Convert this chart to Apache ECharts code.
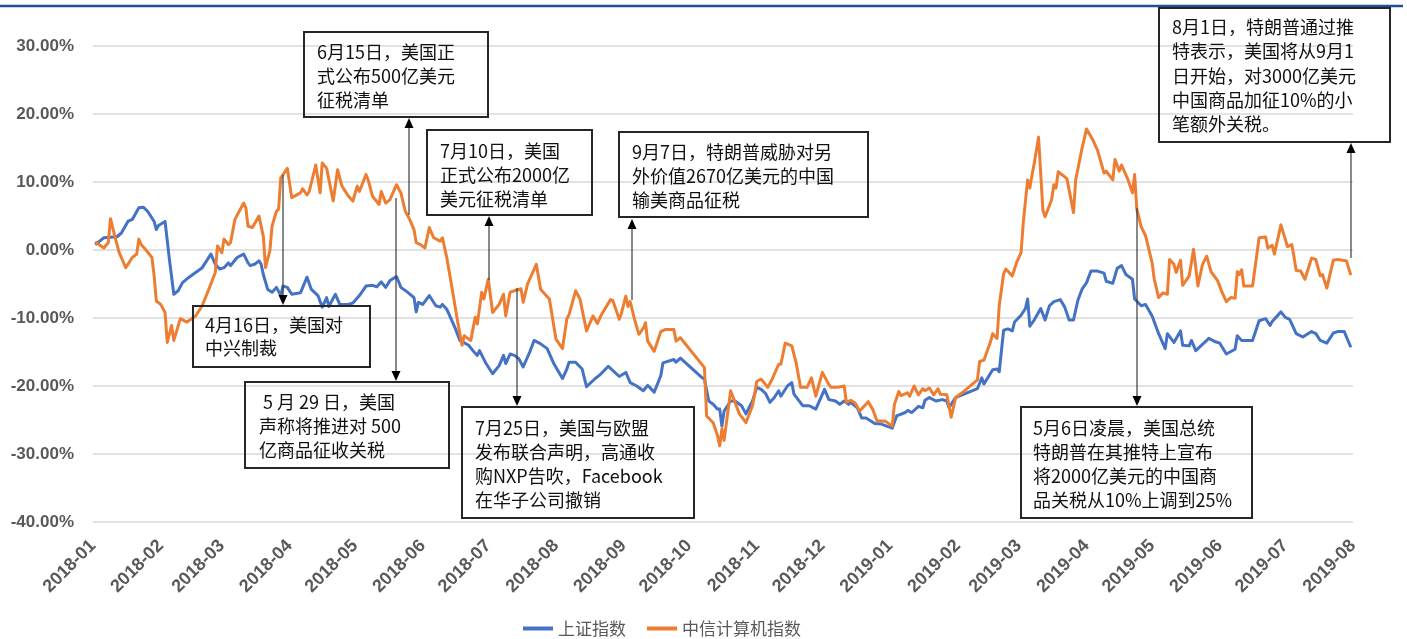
<!DOCTYPE html>
<html>
<head>
<meta charset="utf-8">
<script src="https://cdn.jsdelivr.net/npm/echarts@6/dist/echarts.min.js"></script>
<style>
html,body{margin:0;padding:0;background:#fff;}
#c{width:1407px;height:639px;}
</style>
</head>
<body>
<div id="c"></div>
<script>
// ---- data (percent change since 2018-01-02) ----
const seriesNames = ['上证指数', '中信计算机指数'];
const yTicks = [-40, -30, -20, -10, 0, 10, 20, 30];

const shIndex = [
['2018-01-02',0.8],['2018-01-06',1.8],['2018-01-12',1.95],['2018-01-14',2.5],['2018-01-17',4.2],['2018-01-19',4.5],['2018-01-22',6.2],['2018-01-24',6.3],['2018-01-26',5.7],['2018-01-29',4.2],['2018-01-30',3.0],['2018-01-31',3.6],
['2018-02-03',4.2],['2018-02-05',-1.4],['2018-02-07',-6.5],['2018-02-09',-6.0],['2018-02-11',-4.8],['2018-02-14',-4.0],['2018-02-20',-2.6],['2018-02-24',-0.6],['2018-02-26',-2.1],['2018-02-28',-2.8],
['2018-03-02',-2.6],['2018-03-04',-1.9],['2018-03-05',-2.3],['2018-03-08',-1.1],['2018-03-11',-0.6],['2018-03-13',-1.9],['2018-03-14',-2.3],['2018-03-16',-2.1],['2018-03-18',-1.6],['2018-03-19',-2.1],['2018-03-20',-3.6],['2018-03-22',-5.8],['2018-03-24',-6.2],['2018-03-26',-5.5],['2018-03-28',-6.7],['2018-03-29',-5.3],['2018-03-31',-5.5],
['2018-04-02',-6.5],['2018-04-06',-6.3],['2018-04-09',-4.0],['2018-04-11',-5.8],['2018-04-14',-6.7],['2018-04-16',-8.4],['2018-04-18',-7.0],['2018-04-19',-8.3],['2018-04-22',-6.5],['2018-04-24',-8.0],['2018-04-28',-8.0],['2018-04-30',-7.8],
['2018-05-03',-6.7],['2018-05-06',-5.3],['2018-05-09',-5.2],['2018-05-11',-5.4],['2018-05-13',-4.7],['2018-05-15',-5.5],['2018-05-17',-4.5],['2018-05-20',-3.9],['2018-05-22',-5.5],['2018-05-25',-6.2],['2018-05-28',-7.0],['2018-05-29',-9.1],['2018-05-30',-7.7],
['2018-06-01',-8.0],['2018-06-04',-6.7],['2018-06-07',-8.2],['2018-06-09',-8.4],['2018-06-10',-8.0],['2018-06-12',-8.7],['2018-06-16',-11.6],['2018-06-18',-13.3],['2018-06-22',-14.0],['2018-06-24',-14.8],['2018-06-26',-15.5],['2018-06-27',-14.8],['2018-06-30',-16.7],
['2018-07-03',-18.2],['2018-07-06',-17.0],['2018-07-08',-15.5],['2018-07-09',-16.7],['2018-07-11',-15.3],['2018-07-13',-15.5],['2018-07-15',-16.0],['2018-07-17',-17.2],['2018-07-20',-15.0],['2018-07-22',-13.3],['2018-07-25',-13.8],['2018-07-28',-14.5],['2018-07-31',-16.7],
['2018-08-04',-18.9],['2018-08-06',-17.5],['2018-08-07',-16.5],['2018-08-10',-16.5],['2018-08-13',-17.5],['2018-08-15',-20.1],['2018-08-19',-18.9],['2018-08-21',-18.4],['2018-08-25',-17.1],['2018-08-30',-18.6],
['2018-09-02',-18.0],['2018-09-04',-19.5],['2018-09-07',-20.0],['2018-09-10',-20.7],['2018-09-12',-19.9],['2018-09-15',-20.9],['2018-09-18',-18.5],['2018-09-19',-16.6],['2018-09-24',-16.1],['2018-09-25',-16.5],['2018-09-27',-15.9],
['2018-10-07',-18.8],['2018-10-08',-19.0],['2018-10-10',-22.2],['2018-10-12',-22.7],['2018-10-14',-23.4],['2018-10-15',-23.4],['2018-10-16',-25.9],['2018-10-17',-23.7],['2018-10-20',-22.2],['2018-10-22',-22.2],['2018-10-25',-22.9],['2018-10-27',-24.1],['2018-10-30',-22.2],
['2018-11-01',-20.2],['2018-11-03',-20.5],['2018-11-05',-21.1],['2018-11-07',-22.4],['2018-11-09',-21.7],['2018-11-11',-20.7],['2018-11-12',-21.5],['2018-11-15',-20.0],['2018-11-17',-19.5],['2018-11-18',-21.2],['2018-11-22',-22.9],['2018-11-25',-22.9],['2018-11-28',-23.4],
['2018-12-02',-20.5],['2018-12-04',-22.0],['2018-12-07',-22.2],['2018-12-09',-22.7],['2018-12-11',-22.2],['2018-12-13',-22.7],['2018-12-14',-22.4],['2018-12-17',-23.2],['2018-12-19',-24.7],['2018-12-21',-24.7],['2018-12-25',-25.5],['2018-12-28',-25.6],
['2019-01-02',-26.2],['2019-01-04',-24.4],['2019-01-08',-23.9],['2019-01-09',-23.6],['2019-01-11',-23.9],['2019-01-14',-23.0],['2019-01-16',-23.2],['2019-01-17',-22.1],['2019-01-19',-21.7],['2019-01-22',-22.2],['2019-01-25',-22.0],['2019-01-27',-22.2],['2019-01-28',-23.2],['2019-01-31',-21.7],
['2019-02-10',-20.4],['2019-02-12',-18.8],['2019-02-13',-19.7],['2019-02-17',-17.6],['2019-02-19',-17.5],['2019-02-20',-17.9],['2019-02-22',-11.8],['2019-02-24',-11.6],['2019-02-26',-11.9],['2019-02-27',-10.6],
['2019-03-02',-9.6],['2019-03-04',-8.6],['2019-03-05',-7.2],['2019-03-06',-11.2],['2019-03-08',-10.3],['2019-03-11',-8.6],['2019-03-13',-10.3],['2019-03-15',-8.2],['2019-03-17',-7.6],['2019-03-20',-7.3],['2019-03-22',-8.4],['2019-03-24',-10.3],['2019-03-26',-10.3],['2019-03-28',-7.4],['2019-03-30',-5.7],
['2019-04-01',-4.8],['2019-04-03',-3.1],['2019-04-06',-3.1],['2019-04-09',-3.4],['2019-04-10',-4.6],['2019-04-13',-4.9],['2019-04-15',-2.7],['2019-04-17',-2.3],['2019-04-19',-3.6],['2019-04-22',-4.3],['2019-04-23',-7.2],['2019-04-26',-8.2],['2019-04-28',-8.0],
['2019-05-01',-9.7],['2019-05-04',-12.3],['2019-05-07',-14.5],['2019-05-08',-12.3],['2019-05-11',-13.6],['2019-05-14',-11.9],['2019-05-15',-14.0],['2019-05-18',-14.1],['2019-05-19',-13.3],['2019-05-21',-14.8],['2019-05-27',-13.0],['2019-05-30',-13.5],
['2019-06-01',-13.7],['2019-06-04',-15.3],['2019-06-08',-14.6],['2019-06-09',-12.6],['2019-06-11',-13.3],['2019-06-16',-13.3],['2019-06-19',-10.4],['2019-06-22',-10.1],['2019-06-24',-11.1],['2019-06-25',-10.5],['2019-06-29',-9.1],
['2019-07-01',-9.9],['2019-07-03',-10.2],['2019-07-06',-12.3],['2019-07-09',-12.8],['2019-07-13',-12.0],['2019-07-15',-12.3],['2019-07-17',-13.3],['2019-07-20',-13.7],['2019-07-23',-12.2],['2019-07-25',-12.0],['2019-07-28',-12.0],['2019-07-31',-14.3]
];

const citicComputer = [
['2018-01-02',1.2],['2018-01-06',0.3],['2018-01-08',1.1],['2018-01-09',4.6],['2018-01-11',2.0],['2018-01-13',-0.4],['2018-01-16',-2.6],['2018-01-19',-1.1],['2018-01-21',-0.6],['2018-01-22',1.6],['2018-01-23',0.8],['2018-01-25',0.1],['2018-01-28',-1.1],['2018-01-29',-3.8],['2018-01-30',-7.5],
['2018-02-01',-8.0],['2018-02-03',-9.2],['2018-02-04',-13.6],['2018-02-06',-11.1],['2018-02-07',-13.3],['2018-02-10',-10.1],['2018-02-13',-10.6],['2018-02-17',-9.7],['2018-02-20',-8.2],['2018-02-23',-5.8],['2018-02-26',-3.3],['2018-02-27',0.6],
['2018-03-01',-0.4],['2018-03-02',1.6],['2018-03-04',0.8],['2018-03-05',1.1],['2018-03-07',4.5],['2018-03-11',6.9],['2018-03-12',6.2],['2018-03-13',3.5],['2018-03-15',3.3],['2018-03-18',5.0],['2018-03-20',2.0],['2018-03-21',-2.6],['2018-03-23',-0.1],['2018-03-24',3.5],['2018-03-26',5.7],['2018-03-27',6.0],['2018-03-28',10.6],['2018-03-31',12.0],
['2018-04-02',7.7],['2018-04-06',8.4],['2018-04-07',9.0],['2018-04-09',8.1],['2018-04-10',8.6],['2018-04-13',12.5],['2018-04-15',8.4],['2018-04-16',12.8],['2018-04-18',12.0],['2018-04-21',7.2],['2018-04-23',11.8],['2018-04-25',9.4],['2018-04-28',7.9],['2018-04-30',7.2],
['2018-05-02',9.4],['2018-05-03',8.6],['2018-05-06',11.1],['2018-05-07',10.3],['2018-05-09',7.9],['2018-05-12',6.7],['2018-05-13',8.6],['2018-05-15',6.9],['2018-05-17',7.4],['2018-05-20',9.6],['2018-05-22',8.4],['2018-05-24',5.7],['2018-05-26',4.5],['2018-05-28',3.0],['2018-05-29',1.1],['2018-05-31',0.8],
['2018-06-02',0.3],['2018-06-04',3.3],['2018-06-06',1.8],['2018-06-09',1.3],['2018-06-10',1.8],['2018-06-12',-1.1],['2018-06-15',-6.7],['2018-06-17',-10.6],['2018-06-19',-14.0],['2018-06-20',-12.6],['2018-06-22',-13.1],['2018-06-23',-13.3],['2018-06-25',-9.9],['2018-06-26',-10.9],['2018-06-28',-6.2],['2018-06-29',-7.2],
['2018-07-01',-4.3],['2018-07-03',-9.2],['2018-07-06',-8.0],['2018-07-08',-6.5],['2018-07-09',-9.7],['2018-07-11',-6.2],['2018-07-13',-6.0],['2018-07-16',-5.7],['2018-07-17',-7.7],['2018-07-19',-5.0],['2018-07-23',-2.1],['2018-07-25',-5.8],['2018-07-29',-7.2],
['2018-08-01',-13.1],['2018-08-04',-14.5],['2018-08-06',-10.1],['2018-08-07',-9.5],['2018-08-10',-6.0],['2018-08-12',-7.2],['2018-08-15',-11.9],['2018-08-18',-9.7],['2018-08-20',-10.8],['2018-08-22',-9.4],['2018-08-26',-7.3],['2018-08-27',-7.4],['2018-08-30',-10.2],['2018-08-31',-9.3],
['2018-09-02',-6.8],['2018-09-03',-8.3],['2018-09-04',-7.6],['2018-09-06',-10.2],['2018-09-08',-12.4],['2018-09-10',-11.5],['2018-09-11',-10.7],['2018-09-12',-13.4],['2018-09-15',-14.9],['2018-09-18',-12.0],['2018-09-20',-11.7],['2018-09-24',-11.7],['2018-09-25',-13.4],['2018-09-27',-12.9],
['2018-10-08',-17.3],['2018-10-09',-24.4],['2018-10-12',-25.4],['2018-10-14',-27.3],['2018-10-15',-28.8],['2018-10-16',-26.3],['2018-10-17',-28.0],['2018-10-20',-20.7],['2018-10-22',-22.4],['2018-10-24',-24.1],['2018-10-27',-25.4],['2018-10-30',-22.9],
['2018-11-01',-19.3],['2018-11-03',-19.0],['2018-11-06',-20.2],['2018-11-08',-19.0],['2018-11-11',-16.8],['2018-11-12',-16.8],['2018-11-14',-13.7],['2018-11-17',-14.1],['2018-11-19',-16.6],['2018-11-21',-20.2],['2018-11-24',-20.2],['2018-11-26',-18.8],['2018-11-28',-21.5],
['2018-12-01',-18.0],['2018-12-04',-19.8],['2018-12-05',-20.2],['2018-12-08',-20.2],['2018-12-11',-20.0],['2018-12-12',-22.4],['2018-12-14',-22.1],['2018-12-16',-22.5],['2018-12-18',-23.7],['2018-12-22',-22.3],['2018-12-24',-23.4],['2018-12-26',-25.1],['2018-12-30',-25.2],
['2019-01-02',-25.9],['2019-01-03',-22.7],['2019-01-05',-20.8],['2019-01-06',-21.4],['2019-01-09',-21.0],['2019-01-10',-21.5],['2019-01-12',-20.0],['2019-01-14',-21.3],['2019-01-16',-20.4],['2019-01-17',-20.7],['2019-01-19',-20.3],['2019-01-21',-21.3],['2019-01-23',-20.4],['2019-01-24',-21.2],['2019-01-27',-21.3],['2019-01-29',-24.6],['2019-01-31',-21.7],
['2019-02-03',-21.0],['2019-02-10',-19.1],['2019-02-11',-16.4],['2019-02-13',-16.2],['2019-02-16',-13.5],['2019-02-17',-12.3],['2019-02-19',-13.0],['2019-02-20',-8.2],['2019-02-22',-3.5],['2019-02-23',-2.8],['2019-02-26',-3.8],['2019-02-28',-1.8],
['2019-03-02',-0.4],['2019-03-03',4.0],['2019-03-05',10.3],['2019-03-06',9.1],['2019-03-07',11.0],['2019-03-08',12.7],['2019-03-10',16.6],['2019-03-12',5.8],['2019-03-13',4.9],['2019-03-16',7.4],['2019-03-17',9.6],['2019-03-18',9.1],['2019-03-19',11.5],['2019-03-23',10.5],['2019-03-26',5.5],['2019-03-27',10.3],['2019-03-30',15.1],
['2019-04-01',17.8],['2019-04-04',16.1],['2019-04-06',14.7],['2019-04-09',11.3],['2019-04-10',11.6],['2019-04-13',10.3],['2019-04-14',13.3],['2019-04-16',11.6],['2019-04-17',12.5],['2019-04-20',10.3],['2019-04-22',8.4],['2019-04-23',11.1],['2019-04-24',6.0],['2019-04-26',3.4],['2019-04-28',2.1],
['2019-05-01',-1.9],['2019-05-02',-4.3],['2019-05-04',-7.0],['2019-05-06',-6.3],['2019-05-08',-6.5],['2019-05-09',-1.4],['2019-05-11',-2.1],['2019-05-12',-3.3],['2019-05-14',-1.5],['2019-05-15',-5.2],['2019-05-18',-3.8],['2019-05-20',0.1],['2019-05-22',-5.3],['2019-05-24',-2.2],['2019-05-26',-0.9],['2019-05-28',-3.2],['2019-05-31',-4.5],
['2019-06-02',-6.2],['2019-06-04',-7.6],['2019-06-06',-7.0],['2019-06-08',-7.1],['2019-06-09',-3.2],['2019-06-10',-3.6],['2019-06-11',-2.9],['2019-06-12',-5.3],['2019-06-16',-5.3],['2019-06-19',1.8],['2019-06-22',1.9],['2019-06-23',0.3],['2019-06-25',0.7],['2019-06-26',-0.6],['2019-06-29',3.7],
['2019-07-02',0.5],['2019-07-04',0.8],['2019-07-06',-3.0],['2019-07-08',-3.1],['2019-07-10',-4.3],['2019-07-13',-1.2],['2019-07-15',-1.4],['2019-07-17',-3.8],['2019-07-18',-3.6],['2019-07-20',-5.6],['2019-07-23',-1.5],['2019-07-25',-1.4],['2019-07-29',-1.6],['2019-07-31',-3.7]
];

// ---- annotations (layout only) ----
const CJK = '"Noto Sans CJK SC", sans-serif';
const notes = [
  {box:[304,32,184,85],  tx:317,  ty:40,  lh:24, text:'6月15日，美国正\n式公布500亿美元\n征税清单'},
  {box:[427,130,165,85], tx:440,  ty:139, lh:24, text:'7月10日，美国\n正式公布2000亿\n美元征税清单'},
  {box:[619,132,249,85], tx:632,  ty:140, lh:24, text:'9月7日，特朗普威胁对另\n外价值2670亿美元的中国\n输美商品征税'},
  {box:[193,306,177,61], tx:205,  ty:314, lh:23, text:'4月16日，美国对\n中兴制裁'},
  {box:[245,382,204,86], tx:259,  ty:390, lh:24, text:' 5 月 29 日，美国\n声称将推进对 500\n亿商品征收关税'},
  {box:[462,407,232,111],tx:475,  ty:416, lh:24, text:'7月25日，美国与欧盟\n发布联合声明，高通收\n购NXP告吹，Facebook\n在华子公司撤销'},
  {box:[1159,8,231,134], tx:1172, ty:15,  lh:24.3, text:'8月1日，特朗普通过推\n特表示，美国将从9月1\n日开始，对3000亿美元\n中国商品加征10%的小\n笔额外关税。'},
  {box:[1021,407,231,111],tx:1033,ty:416, lh:24, text:'5月6日凌晨，美国总统\n特朗普在其推特上宣布\n将2000亿美元的中国商\n品关税从10%上调到25%'}
];
// arrows: x, start y (at line), tip y
const arrows = [
  [409,215,118],[489,280,216],[632,300,219],[283,175,305],
  [396,198,381],[517,288,406],[1351,258,143],[1137,208,406]
];

const graphics = [];
graphics.push({type:'line', shape:{x1:0,y1:6,x2:1403,y2:6}, style:{stroke:'#1F4E9A', lineWidth:2.5}, z:100});
notes.forEach(n => {
  graphics.push({type:'rect', shape:{x:n.box[0],y:n.box[1],width:n.box[2],height:n.box[3]},
    style:{fill:'none', stroke:'#262626', lineWidth:2}, z:100});
  graphics.push({type:'text', x:n.tx, y:n.ty, style:{text:n.text, fill:'#111', font:'18px ' + CJK,
    lineHeight:n.lh, verticalAlign:'top', align:'left'}, z:101});
});
arrows.forEach(a => {
  const [x, y0, tip] = a;
  const dir = tip < y0 ? 1 : -1; // 1 = pointing up
  const base = tip + dir * 10;
  graphics.push({type:'line', shape:{x1:x,y1:y0,x2:x,y2:base}, style:{stroke:'#3a3a3a', lineWidth:1.2}, z:100});
  graphics.push({type:'polygon', shape:{points:[[x,tip],[x-4.5,base],[x+4.5,base]]}, style:{fill:'#000'}, z:100});
});

const chart = echarts.init(document.getElementById('c'), null, {renderer:'canvas'});
chart.setOption({
  animation:false,
  backgroundColor:'#fff',
  grid:{left:93, right:54, top:46, bottom:117, containLabel:false},
  legend:{
    data:seriesNames, left:518, top:615, icon:'rect', itemWidth:30, itemHeight:4, itemGap:21,
    textStyle:{fontSize:17, color:'#595959', fontFamily:CJK}
  },
  xAxis:{
    type:'time', min:'2018-01-01', max:'2019-08-01', splitNumber:19,
    minInterval:28*24*3600*1000, maxInterval:31*24*3600*1000,
    axisLine:{show:false}, axisTick:{show:false}, splitLine:{show:false},
    axisLabel:{rotate:45, formatter:'{yyyy}-{MM}', fontSize:18, fontWeight:'bold', color:'#595959',
      fontFamily:'"Liberation Sans", Arial, sans-serif', margin:21, hideOverlap:false, showMinLabel:true, showMaxLabel:true}
  },
  yAxis:{
    type:'value', min:yTicks[0], max:yTicks[yTicks.length-1], interval:10,
    axisLine:{show:false}, axisTick:{show:false},
    splitLine:{lineStyle:{color:'#d9d9d9', width:1.5}},
    axisLabel:{formatter:v => v.toFixed(2) + '%', fontSize:17, fontWeight:'bold', color:'#595959',
      fontFamily:'"Liberation Sans", Arial, sans-serif', margin:19}
  },
  series:[
    {name:seriesNames[0], type:'line', data:shIndex, showSymbol:false, symbol:'none',
      lineStyle:{color:'#4472C4', width:3, join:'round'}, itemStyle:{color:'#4472C4'}, z:2},
    {name:seriesNames[1], type:'line', data:citicComputer, showSymbol:false, symbol:'none',
      lineStyle:{color:'#ED7D31', width:3, join:'round'}, itemStyle:{color:'#ED7D31'}, z:3}
  ],
  graphic:graphics
});
</script>
</body>
</html>
